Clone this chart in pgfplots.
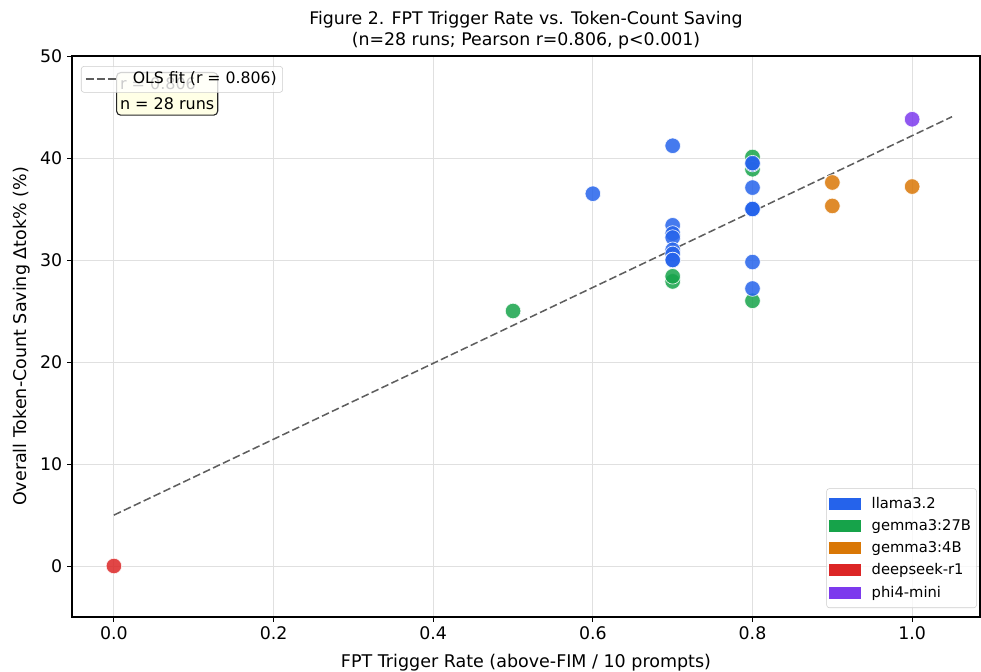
\documentclass[border=0pt]{standalone}
\usepackage{fontspec}
\setmainfont{DejaVu Sans}
\usepackage{pgfplots}
\pgfplotsset{compat=1.18}
\definecolor{llama}{HTML}{2563EB}
\definecolor{g27}{HTML}{16A34A}
\definecolor{g4}{HTML}{D97706}
\definecolor{dsr}{HTML}{DC2626}
\definecolor{phi}{HTML}{7C3AED}
\definecolor{lyel}{HTML}{FFFFE0}
\definecolor{fitc}{HTML}{5E5E5E}

\pgfplotsset{
  pt/.style={only marks, mark=*, mark size=5.6pt, forget plot,
    mark options={fill=#1, draw=white, line width=0.5pt, opacity=0.85}},
  patch/.style={legend image code/.code={
    \fill[#1, draw=none, fill opacity=1, sharp corners] (0pt,-4.3pt) rectangle (23pt,4.3pt);
    \path[draw=none] (0pt,0pt) -- (28.5pt,0pt);}},
}

\begin{document}
\begin{tikzpicture}
\path[use as bounding box] (-51.84pt,-38.88pt) rectangle (654.48pt,444.24pt);
\begin{axis}[
  scale only axis, width=653.76pt, height=403.92pt,
  xmin=-0.0525, xmax=1.085, ymin=-5, ymax=50,
  xtick={0,0.2,0.4,0.6,0.8,1.0}, ytick={0,10,20,30,40,50},
  xticklabel style={/pgf/number format/.cd, fixed, fixed zerofill, precision=1},
  /pgf/number format/assume math mode=true,
  ticklabel style={font=\fontsize{12.5}{14}\selectfont},
  tick align=outside, tick pos=left, major tick length=3.5pt,
  tick style={black, line width=0.6pt},
  axis line style={black, line width=0.8pt},
  grid=major, grid style={black!12, line width=0.6pt},
  xlabel={FPT Trigger Rate (above-FIM / 10 prompts)},
  ylabel={Overall Token-Count Saving Δtok\% (\%)},
  label style={font=\fontsize{12.6}{15}\selectfont},
  xlabel style={yshift=-3.5pt},
  title={Figure 2. FPT Trigger Rate vs. Token-Count Saving\\(n=28 runs; Pearson r=0.806, p<0.001)},
  title style={font=\fontsize{12.5}{14.5}\selectfont, align=center, yshift=-4.3pt},
  legend style={at={(0.9965,0.016)}, anchor=south east, draw=black!20,
    fill=white, fill opacity=0.8, text opacity=1, rounded corners=2pt,
    font=\fontsize{10.6}{13}\selectfont, row sep=2.6pt, inner xsep=2pt, inner ysep=4pt},
  legend cell align=left,
]
% OLS fit
\addplot[fitc, line width=1.1pt, dash pattern=on 5.5pt off 2.4pt, forget plot]
  coordinates {(0,4.99)(1.05,44.05)};

% gemma3:27B
\addplot[pt=g27] coordinates {
  (0.5,25.0)(0.7,27.9)(0.7,28.4)(0.8,26.0)(0.8,40.1)(0.8,38.9)};
% llama3.2
\addplot[pt=llama] coordinates {
  (0.6,36.5)(0.7,41.2)(0.7,33.4)(0.7,32.6)(0.7,32.2)(0.7,31.0)(0.7,30.6)
  (0.7,30.0)(0.7,30.0)(0.8,39.4)(0.8,39.5)(0.8,37.1)(0.8,35.0)(0.8,35.0)(0.8,35.0)
  (0.8,29.8)(0.8,27.2)};
% gemma3:4B
\addplot[pt=g4] coordinates {(0.9,37.6)(0.9,35.3)(1.0,37.2)};
% deepseek-r1
\addplot[pt=dsr] coordinates {(0,0)};
% phi4-mini
\addplot[pt=phi] coordinates {(1.0,43.8)};

\addlegendimage{patch=llama}\addlegendentry{llama3.2}
\addlegendimage{patch=g27}\addlegendentry{gemma3:27B}
\addlegendimage{patch=g4}\addlegendentry{gemma3:4B}
\addlegendimage{patch=dsr}\addlegendentry{deepseek-r1}
\addlegendimage{patch=phi}\addlegendentry{phi4-mini}

% annotation box
\node[anchor=north west, draw=black!85, line width=0.8pt, fill=lyel, fill opacity=0.8,
  text opacity=1, rounded corners=3pt, align=left, inner xsep=2.5pt, inner ysep=4pt,
  font=\fontsize{11.5}{14}\selectfont] at (axis description cs:0.0485,0.9715)
  {r = 0.806\\n = 28 runs};
% OLS legend
\node[anchor=north west, draw=black!20, fill=white, fill opacity=0.8, rounded corners=2pt,
  minimum width=145pt, minimum height=18.7pt, inner sep=0pt]
  at (axis description cs:0.0099,0.982) {};
\node[anchor=west, font=\fontsize{11.3}{13}\selectfont, inner sep=0pt]
  at (axis description cs:0.0667,0.959) {OLS fit (r = 0.806)};
\draw[fitc, line width=1.1pt, dash pattern=on 5.5pt off 2.4pt]
  (axis description cs:0.0154,0.959) -- (axis description cs:0.0496,0.959);
\end{axis}
\end{tikzpicture}
\end{document}
